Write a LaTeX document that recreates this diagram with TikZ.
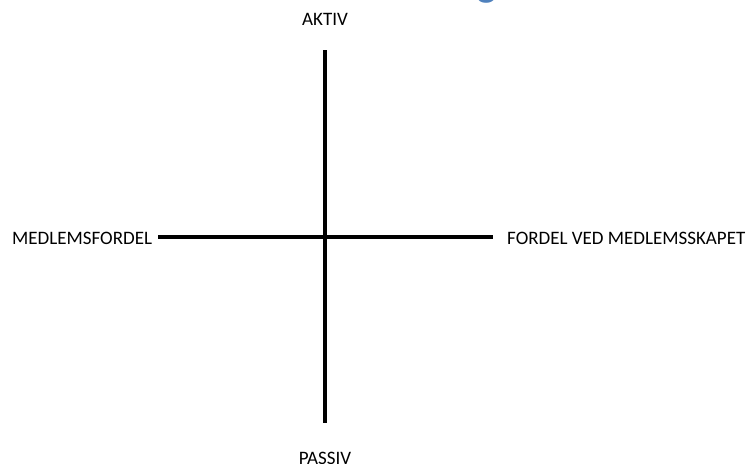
\documentclass[tikz,border=0pt]{standalone}
\usepackage{fontspec}
\setmainfont{Carlito}
\definecolor{headblue}{HTML}{4F81BD}
\begin{document}
\begin{tikzpicture}[x=1pt,y=-1pt,
  axis/.style={line width=3.6pt,black},
  lab/.style={font=\fontsize{19}{22}\selectfont,inner sep=0pt,text=black}]
\useasboundingbox[fill=white] (0,0) rectangle (746,463);
\begin{scope}
\clip (0,0) rectangle (746,463);
\node[anchor=base,inner sep=0pt,text=headblue,font=\fontsize{40}{44}\selectfont\bfseries] (g) at (487,-4) {g};
\node[lab,anchor=center] (aktiv) at (325,19) {AKTIV};
\node[lab,anchor=center] (passiv) at (325,458) {PASSIV};
\end{scope}
\node[lab,anchor=west] (mf) at (12,238) {MEDLEMSFORDEL};
\node[lab,anchor=west] (fv) at (507,238) {FORDEL VED MEDLEMSSKAPET};
\coordinate (top) at (325,50);
\coordinate (bot) at (325,423);
\coordinate (lft) at (158,237);
\coordinate (rgt) at (493,237);
\draw[axis] (top) -- (bot);
\draw[axis] (lft) -- (rgt);
\end{tikzpicture}
\end{document}
